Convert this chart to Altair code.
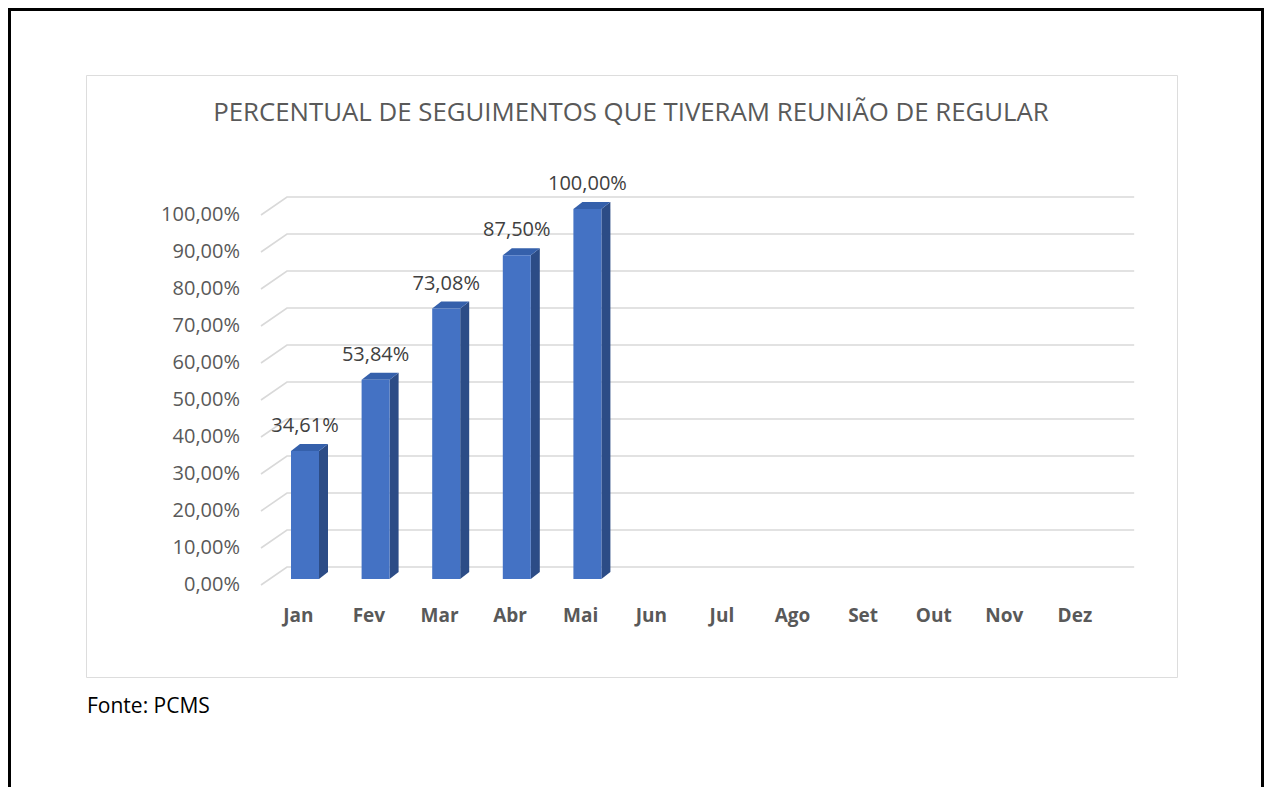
import altair as alt
import pandas as pd

# ---------------- data ----------------
months = ["Jan", "Fev", "Mar", "Abr", "Mai", "Jun", "Jul", "Ago", "Set", "Out", "Nov", "Dez"]
values = [34.61, 53.84, 73.08, 87.50, 100.00]          # only Jan..Mai have data
value_labels = ["34,61%", "53,84%", "73,08%", "87,50%", "100,00%"]
tick_values = [0, 10, 20, 30, 40, 50, 60, 70, 80, 90, 100]
tick_labels = ["0,00%", "10,00%", "20,00%", "30,00%", "40,00%", "50,00%",
               "60,00%", "70,00%", "80,00%", "90,00%", "100,00%"]
title_text = "PERCENTUAL DE SEGUIMENTOS QUE TIVERAM REUNIÃO DE REGULAR"
source_text = "Fonte: PCMS"

# ---------------- geometry (in data units) ----------------
PX_X = 70.6      # pixels per category
PX_Y = 3.7       # pixels per percent
W, H = 1091, 602
X_DOM = [(86 - 261) / PX_X, (1177 - 261) / PX_X]
Y_DOM = [(585 - 677) / PX_Y, (585 - 75) / PX_Y]
DX, DY = 26 / PX_X, 18 / PX_Y           # floor depth offset
B_LEFT, B_W = 30 / PX_X, 28 / PX_X       # bar front face
S_W, S_H = 9 / PX_X, 7 / PX_Y            # bar depth (side / top)
BASE = 6 / PX_Y

xs = alt.Scale(domain=X_DOM, nice=False, zero=False)
ys = alt.Scale(domain=Y_DOM, nice=False, zero=False)


def X(f):
    return alt.X(f, type="quantitative", scale=xs, axis=None)


def Y(f):
    return alt.Y(f, type="quantitative", scale=ys, axis=None)


# gridlines (slanted floor part + horizontal back wall part)
g_rows = []
for v in tick_values:
    g_rows += [
        {"v": v, "k": 0, "x": 0.0, "y": v},
        {"v": v, "k": 1, "x": DX, "y": v + DY},
        {"v": v, "k": 2, "x": len(months) + DX, "y": v + DY},
    ]
grid = alt.Chart(pd.DataFrame(g_rows)).mark_line(
    color="#d9d9d9", strokeWidth=1.6
).encode(x=X("x"), y=Y("y"), detail="v:N", order="k:Q")

# bars
front_rows, side_rows, top_rows, lab_rows = [], [], [], []
for i, (m, v, lab) in enumerate(zip(months, values, value_labels)):
    L = i + B_LEFT
    R = L + B_W
    T = BASE + v
    front_rows.append({"m": m, "x": L, "x2": R, "y": BASE, "y2": T})
    side_rows += [
        {"m": m, "x": R, "y": BASE, "y2": T},
        {"m": m, "x": R + S_W, "y": BASE + S_H, "y2": T + S_H},
    ]
    top_rows += [
        {"m": m, "x": L, "y": T, "y2": T},
        {"m": m, "x": L + S_W, "y": T, "y2": T + S_H},
        {"m": m, "x": R, "y": T, "y2": T + S_H},
        {"m": m, "x": R + S_W, "y": T + S_H, "y2": T + S_H},
    ]
    lab_rows.append({"m": m, "x": L + B_W / 2, "y": T + S_H, "t": lab})

front = alt.Chart(pd.DataFrame(front_rows)).mark_rect(color="#4472C4").encode(
    x=X("x"), x2="x2", y=Y("y"), y2="y2"
)
side = alt.Chart(pd.DataFrame(side_rows)).mark_area(
    color="#2C4C86", orient="vertical", interpolate="linear"
).encode(x=X("x"), y=Y("y"), y2="y2", detail="m:N")
top = alt.Chart(pd.DataFrame(top_rows)).mark_area(
    color="#3560AB", orient="vertical", interpolate="linear"
).encode(x=X("x"), y=Y("y"), y2="y2", detail="m:N")

FONT = "Open Sans"
data_labels = alt.Chart(pd.DataFrame(lab_rows)).mark_text(
    font=FONT, fontSize=20, color="#404040", baseline="alphabetic", dy=-12
).encode(x=X("x"), y=Y("y"), text="t:N")

# y tick labels
ylab = alt.Chart(pd.DataFrame({"v": tick_values, "t": tick_labels,
                               "x": [(240 - 261) / PX_X] * len(tick_values)})).mark_text(
    font=FONT, fontSize=20, color="#595959", align="right", baseline="middle"
).encode(x=X("x"), y=Y("v"), text="t:N")

# month labels
xlab = alt.Chart(pd.DataFrame({"t": months,
                               "x": [i + 0.5 for i in range(len(months))],
                               "y": [(585 - 616) / PX_Y] * len(months)})).mark_text(
    font=FONT, fontSize=19, fontWeight="bold", color="#595959", align="center", baseline="middle",
    dx=2
).encode(x=X("x"), y=Y("y"), text="t:N")

one = pd.DataFrame({"a": [0]})
title = alt.Chart(one).mark_text(
    text=title_text, font=FONT, fontSize=25.8, color="#595959", align="center", baseline="middle"
).encode(x=alt.value(545), y=alt.value(38))

source = alt.Chart(one).mark_text(
    text=source_text, font=FONT, fontSize=21, color="#000000", align="left", baseline="middle"
).encode(x=alt.value(1), y=alt.value(632))

frame = alt.Chart(one).mark_rect(filled=False, stroke="#000000", strokeWidth=3).encode(
    x=alt.value(-76.5), x2=alt.value(1176.5), y=alt.value(-65.5), y2=alt.value(760)
)

chart = alt.layer(frame, grid, side, top, front, data_labels, ylab, xlab, title, source).properties(
    width=W, height=H, autosize="none",
    padding={"left": 78, "top": 67, "right": 87, "bottom": 110},
).configure_view(stroke="#d9d9d9", strokeWidth=2).configure(background="white")

chart.save("out.html", embed_options={"renderer": "svg", "actions": False})
